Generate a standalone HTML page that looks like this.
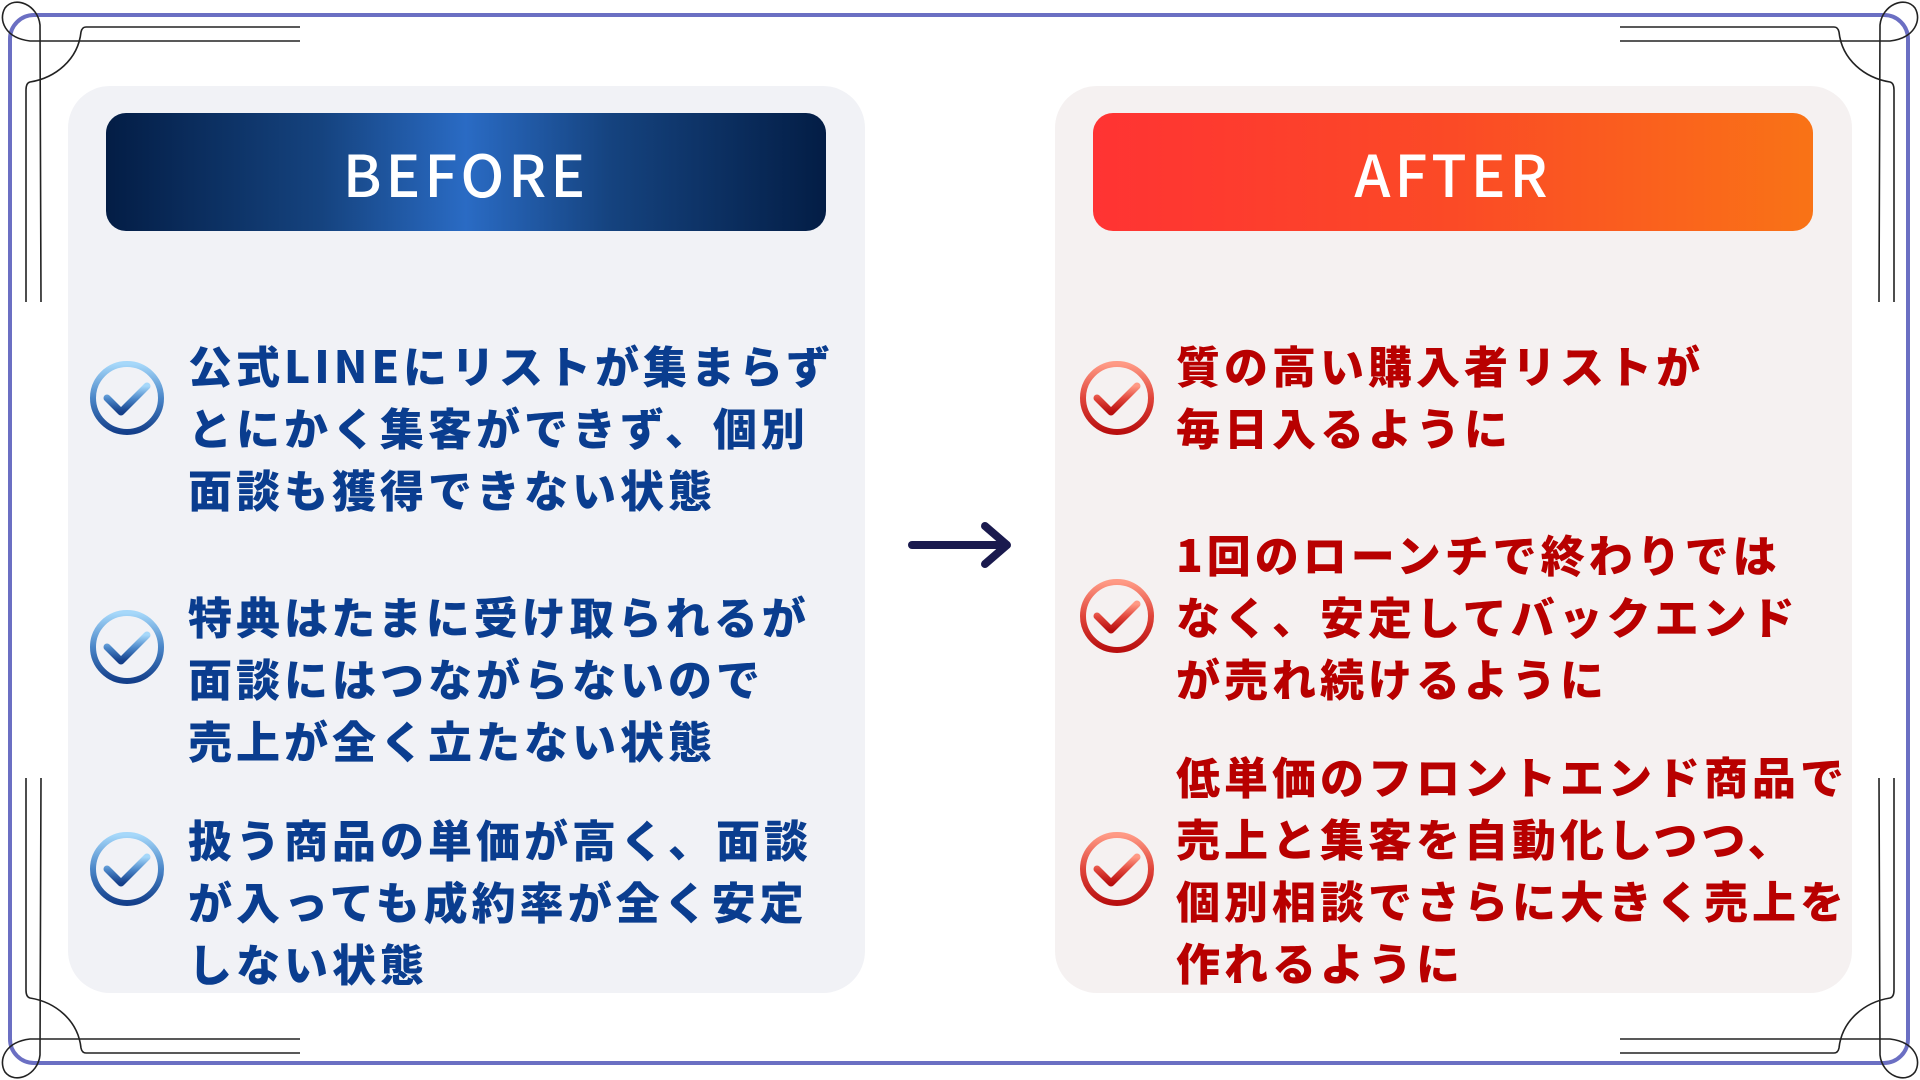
<!DOCTYPE html>
<html><head><meta charset="utf-8"><style>
html,body{margin:0;padding:0;width:1920px;height:1080px;background:#fff;overflow:hidden;position:relative;font-family:"Liberation Sans","Noto Sans CJK JP",sans-serif}
.abs{position:absolute}
.panel{position:absolute;top:86px;height:907px;border-radius:42px}
.hdr{position:absolute;top:113px;height:118px;border-radius:20px;color:#fff;font-family:"Noto Sans CJK JP","Liberation Sans",sans-serif;font-weight:500;font-size:58px;letter-spacing:4px;text-align:center;line-height:118px}
.txt{position:absolute;font-family:"Noto Sans CJK JP","Liberation Sans",sans-serif;font-weight:900;font-size:44px;letter-spacing:4px;line-height:62px;white-space:nowrap}
.b{color:#0a3d8f;left:188px}
.r{color:#b80000;left:1176px}
</style></head><body>
<div class="panel" style="left:68px;width:797px;background:#f1f2f6"></div>
<div class="panel" style="left:1055px;width:797px;background:#f5f1f1"></div>
<div class="hdr" style="left:106px;width:720px;background:linear-gradient(90deg,#031d45 0%,#15437f 30%,#2a6bc4 50%,#15437f 70%,#031d45 100%)">BEFORE</div>
<div class="hdr" style="left:1093px;width:720px;background:linear-gradient(90deg,#ff3333 0%,#fb4a26 50%,#f97316 100%)">AFTER</div>

<div class="txt b" style="top:333px">公式LINEにリストが集まらず<br>とにかく集客ができず、個別<br>面談も獲得できない状態</div>
<div class="txt b" style="top:584px">特典はたまに受け取られるが<br>面談にはつながらないので<br>売上が全く立たない状態</div>
<div class="txt b" style="top:807px">扱う商品の単価が高く、面談<br>が入っても成約率が全く安定<br>しない状態</div>

<div class="txt r" style="top:333px">質の高い購入者リストが<br>毎日入るように</div>
<div class="txt r" style="top:522px">1回のローンチで終わりでは<br>なく、安定してバックエンド<br>が売れ続けるように</div>
<div class="txt r" style="top:744px">低単価のフロントエンド商品で<br>売上と集客を自動化しつつ、<br>個別相談でさらに大きく売上を<br>作れるように</div>

<svg class="abs" style="left:0;top:0" width="1920" height="1080" viewBox="0 0 1920 1080">
<defs>
<linearGradient id="gb" x1="0" y1="0" x2="0" y2="1"><stop offset="0" stop-color="#a6d8fa"/><stop offset="0.5" stop-color="#4a86c8"/><stop offset="1" stop-color="#143f8a"/></linearGradient>
<linearGradient id="gr" x1="0" y1="0" x2="0" y2="1"><stop offset="0" stop-color="#ff9a85"/><stop offset="0.5" stop-color="#e0443a"/><stop offset="1" stop-color="#b80f0f"/></linearGradient>
<g id="cb"><circle r="34" fill="none" stroke="url(#gb)" stroke-width="6"/><path d="M-20,0 L-6,14 L20,-12" fill="none" stroke="url(#gb)" stroke-width="7" stroke-linecap="round" stroke-linejoin="round"/></g>
<g id="cr"><circle r="34" fill="none" stroke="url(#gr)" stroke-width="6"/><path d="M-20,0 L-6,14 L20,-12" fill="none" stroke="url(#gr)" stroke-width="7" stroke-linecap="round" stroke-linejoin="round"/></g>
<g id="orn" fill="none" stroke="#222" stroke-width="1.6">
<path d="M300,27 L86,27 Q82,27 81,32 C78,60 55,78 30,82 Q26,83 26,90 L26,302"/>
<path d="M300,41 L30,41 C5,38 -2,20 5,8 C15,-5 38,5 40,25 L41,302"/>
</g>
</defs>
<rect x="10" y="15" width="1898" height="1048" rx="24" fill="none" stroke="#6b6fc3" stroke-width="4"/>
<use href="#orn"/>
<use href="#orn" transform="translate(1920,0) scale(-1,1)"/>
<use href="#orn" transform="translate(0,1080) scale(1,-1)"/>
<use href="#orn" transform="translate(1920,1080) scale(-1,-1)"/>
<use href="#cb" x="127" y="398"/>
<use href="#cb" x="127" y="647"/>
<use href="#cb" x="127" y="869"/>
<use href="#cr" x="1117" y="398"/>
<use href="#cr" x="1117" y="616"/>
<use href="#cr" x="1117" y="869"/>
<g stroke="#1a1a4e" stroke-width="8" stroke-linecap="round" stroke-linejoin="round" fill="none">
<path d="M912,545 L1006,545"/><path d="M985,526 L1007,545 L985,564"/>
</g>
</svg>
</body></html>
